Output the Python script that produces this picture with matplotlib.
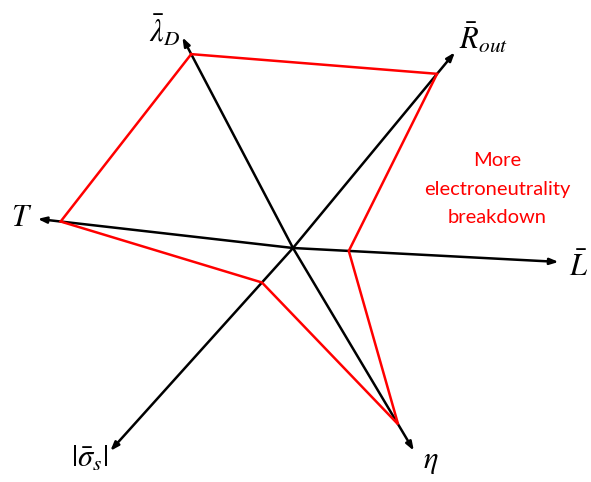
import numpy as np
import matplotlib
matplotlib.use("Agg")
import matplotlib.pyplot as plt

# Axis labels and the normalised value of each parameter along its axis
labels = [r"$\bar{\lambda}_D$", r"$\bar{R}_{out}$", r"$\bar{L}$",
          r"$\eta$", r"$|\bar{\sigma}_s|$", r"$T$"]
values = [0.92, 0.89, 0.21, 0.87, 0.17, 0.91]

# Layout of the star: direction (deg) and length (px) of each axis
angles_deg = [117.7, 50.4, -3.0, -59.2, 228.0, 173.5]
axis_len = [238, 254, 266, 236, 273, 257]
H = 482
W = 591
center = (293, H - 248)
# label anchor points (px from top-left)
label_pos = [(165, 30), (484, 38), (579, 267), (431, 462), (90, 458), (22, 218)]

plt.rcParams["mathtext.fontset"] = "stix"

fig = plt.figure(figsize=(W / 100, H / 100), dpi=100)
ax = fig.add_axes([0, 0, 1, 1])
ax.set_xlim(0, W)
ax.set_ylim(0, H)
ax.axis("off")

cx, cy = center
tips, pts = [], []
for ang, L, v in zip(angles_deg, axis_len, values):
    a = np.deg2rad(ang)
    d = np.array([np.cos(a), np.sin(a)])
    tips.append((cx + L * d[0], cy + L * d[1]))
    pts.append((cx + v * L * d[0], cy + v * L * d[1]))

# black axes with arrow heads
for (tx, ty) in tips:
    ax.annotate("", xy=(tx, ty), xytext=(cx, cy),
                arrowprops=dict(arrowstyle="-|>,head_length=0.5,head_width=0.18",
                                color="black", lw=1.8, shrinkA=0, shrinkB=0))

# red value polygon
px = [p[0] for p in pts] + [pts[0][0]]
py = [p[1] for p in pts] + [pts[0][1]]
ax.plot(px, py, color="#ff0000", lw=1.8, solid_joinstyle="miter", zorder=3)

# axis labels beyond the arrow tips
for lab, (x, y) in zip(labels, label_pos):
    ax.text(x, H - y, lab, fontsize=22, ha="center", va="center")

ax.text(497, H - 189, "More\nelectroneutrality\nbreakdown", color="#ff0000",
        fontsize=14.5, family="Lato", ha="center", va="center", linespacing=1.8)

fig.savefig("out.png", dpi=100)
